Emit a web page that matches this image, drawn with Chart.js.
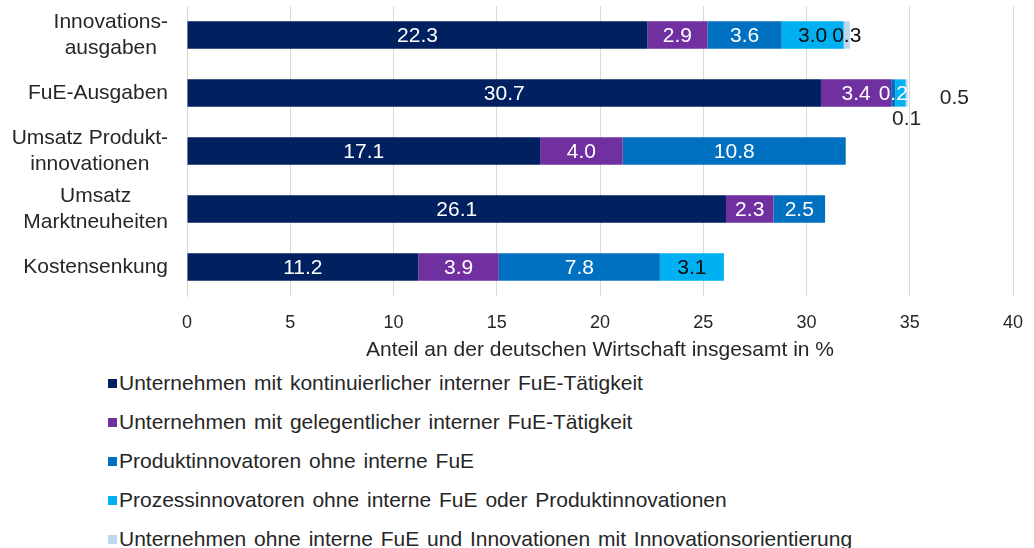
<!DOCTYPE html>
<html>
<head>
<meta charset="utf-8">
<script src="https://cdn.jsdelivr.net/npm/chart.js@4"></script>
<style>
    html, body { margin: 0; padding: 0; background: #fff; }
    body { width: 1034px; height: 548px; overflow: hidden; font-family: "Liberation Sans", Arial, sans-serif; }
    #wrap { position: relative; width: 1034px; height: 365px; }
    #legend { list-style: none; margin: -2px 0 0 0; padding: 0 0 0 108px; }
    #legend li { height: 39px; line-height: 39px; font-size: 21px; word-spacing: 2px; color: #262626; white-space: nowrap; }
    #legend li span { display: inline-block; width: 9px; height: 9px; margin-right: 2px; vertical-align: 2px; }
</style>
</head>
<body>
<div id="wrap"><canvas id="chart"></canvas></div>
<ul id="legend"></ul>
<script>
const categories = [
    ['Innovations-', 'ausgaben'],
    'FuE-Ausgaben',
    ['Umsatz Produkt-', 'innovationen'],
    ['Umsatz', 'Marktneuheiten'],
    'Kostensenkung'
];
const seriesNames = [
    'Unternehmen mit kontinuierlicher interner FuE-Tätigkeit',
    'Unternehmen mit gelegentlicher interner FuE-Tätigkeit',
    'Produktinnovatoren ohne interne FuE',
    'Prozessinnovatoren ohne interne FuE oder Produktinnovationen',
    'Unternehmen ohne interne FuE und Innovationen mit Innovationsorientierung'
];
const kontinuierlich = [22.3, 30.7, 17.1, 26.1, 11.2];
const gelegentlich = [2.9, 3.4, 4.0, 2.3, 3.9];
const produktinnovatoren = [3.6, 0.2, 10.8, 2.5, 7.8];
const prozessinnovatoren = [3.0, 0.5, null, null, 3.1];
const orientierung = [0.3, 0.1, null, null, null];
const xTicks = [0, 5, 10, 15, 20, 25, 30, 35, 40];

const colors = ['#002060', '#7030A0', '#0070C0', '#00B0F0', '#BDD7EE'];
const labelColors = ['#ffffff', '#ffffff', '#ffffff', '#0d0d0d', '#0d0d0d'];
const allSeries = [kontinuierlich, gelegentlich, produktinnovatoren, prozessinnovatoren, orientierung];

// small labels that Excel pushed out of the bar (dataset-index) -> px offset
const labelOffsets = { '3-1': [54, 4], '4-1': [0, 25] };

const FONT = '"Liberation Sans", Arial, sans-serif';
const TEXT = '#262626';

const barLabels = {
    id: 'barLabels',
    afterDatasetsDraw(chart) {
        const ctx = chart.ctx;
        ctx.save();
        ctx.font = '21px ' + FONT;
        ctx.textAlign = 'center';
        ctx.textBaseline = 'middle';
        chart.data.datasets.forEach((ds, di) => {
            const meta = chart.getDatasetMeta(di);
            meta.data.forEach((bar, i) => {
                const v = ds.data[i];
                if (v === null || v === undefined) return;
                const off = labelOffsets[di + '-' + i] || [0, 0];
                const cx = (bar.x + bar.base) / 2 + off[0];
                ctx.fillStyle = off[0] || off[1] ? TEXT : labelColors[di];
                ctx.fillText(v.toFixed(1), cx, bar.y + off[1] + 1);
            });
        });
        ctx.restore();
    }
};

// category labels: block right aligned, lines centred in the block (like Excel)
const categoryLabels = {
    id: 'categoryLabels',
    afterDraw(chart) {
        const ctx = chart.ctx;
        const y = chart.scales.y;
        const right = chart.chartArea.left - 19;
        const lh = 26;
        ctx.save();
        ctx.font = '21px ' + FONT;
        ctx.fillStyle = TEXT;
        ctx.textAlign = 'center';
        ctx.textBaseline = 'middle';
        categories.forEach((cat, i) => {
            const lines = Array.isArray(cat) ? cat : [cat];
            const w = Math.max(...lines.map(l => ctx.measureText(l).width));
            const cx = right - w / 2;
            const cy = y.getPixelForTick(i);
            lines.forEach((l, k) => {
                ctx.fillText(l, cx, cy + (k - (lines.length - 1) / 2) * lh);
            });
        });
        ctx.restore();
    }
};

const ctx = document.getElementById('chart').getContext('2d');
const chart = new Chart(ctx, {
    type: 'bar',
    data: {
        labels: categories,
        datasets: allSeries.map((data, i) => ({
            label: seriesNames[i],
            data: data,
            backgroundColor: colors[i],
            borderWidth: 0,
            categoryPercentage: 0.47,
            barPercentage: 1
        }))
    },
    options: {
        indexAxis: 'y',
        responsive: true,
        maintainAspectRatio: false,
        animation: false,
        layout: { padding: { top: 6, right: 21, left: 0, bottom: 2 } },
        plugins: {
            legend: { display: false },
            tooltip: { enabled: false }
        },
        scales: {
            x: {
                stacked: true,
                min: 0,
                max: 40,
                afterBuildTicks: (scale) => { scale.ticks = xTicks.map(v => ({ value: v })); },
                afterFit: (scale) => { scale.height = 67; scale.paddingRight = 0; },
                grid: { color: '#d9d9d9', drawTicks: false },
                border: { display: false },
                ticks: { color: TEXT, font: { family: FONT, size: 18 }, padding: 16 },
                title: {
                    display: true,
                    text: 'Anteil an der deutschen Wirtschaft insgesamt in %',
                    color: TEXT,
                    font: { family: FONT, size: 21 },
                    padding: { top: 0, bottom: 0 }
                }
            },
            y: {
                stacked: true,
                grid: { display: false },
                border: { display: true, color: '#d9d9d9' },
                ticks: { display: false },
                afterFit: (scale) => { scale.width = 187; }
            }
        }
    },
    plugins: [barLabels, categoryLabels]
});

const legend = document.getElementById('legend');
seriesNames.forEach((name, i) => {
    const li = document.createElement('li');
    const box = document.createElement('span');
    box.style.background = colors[i];
    li.appendChild(box);
    li.appendChild(document.createTextNode(name));
    legend.appendChild(li);
});
</script>
</body>
</html>
